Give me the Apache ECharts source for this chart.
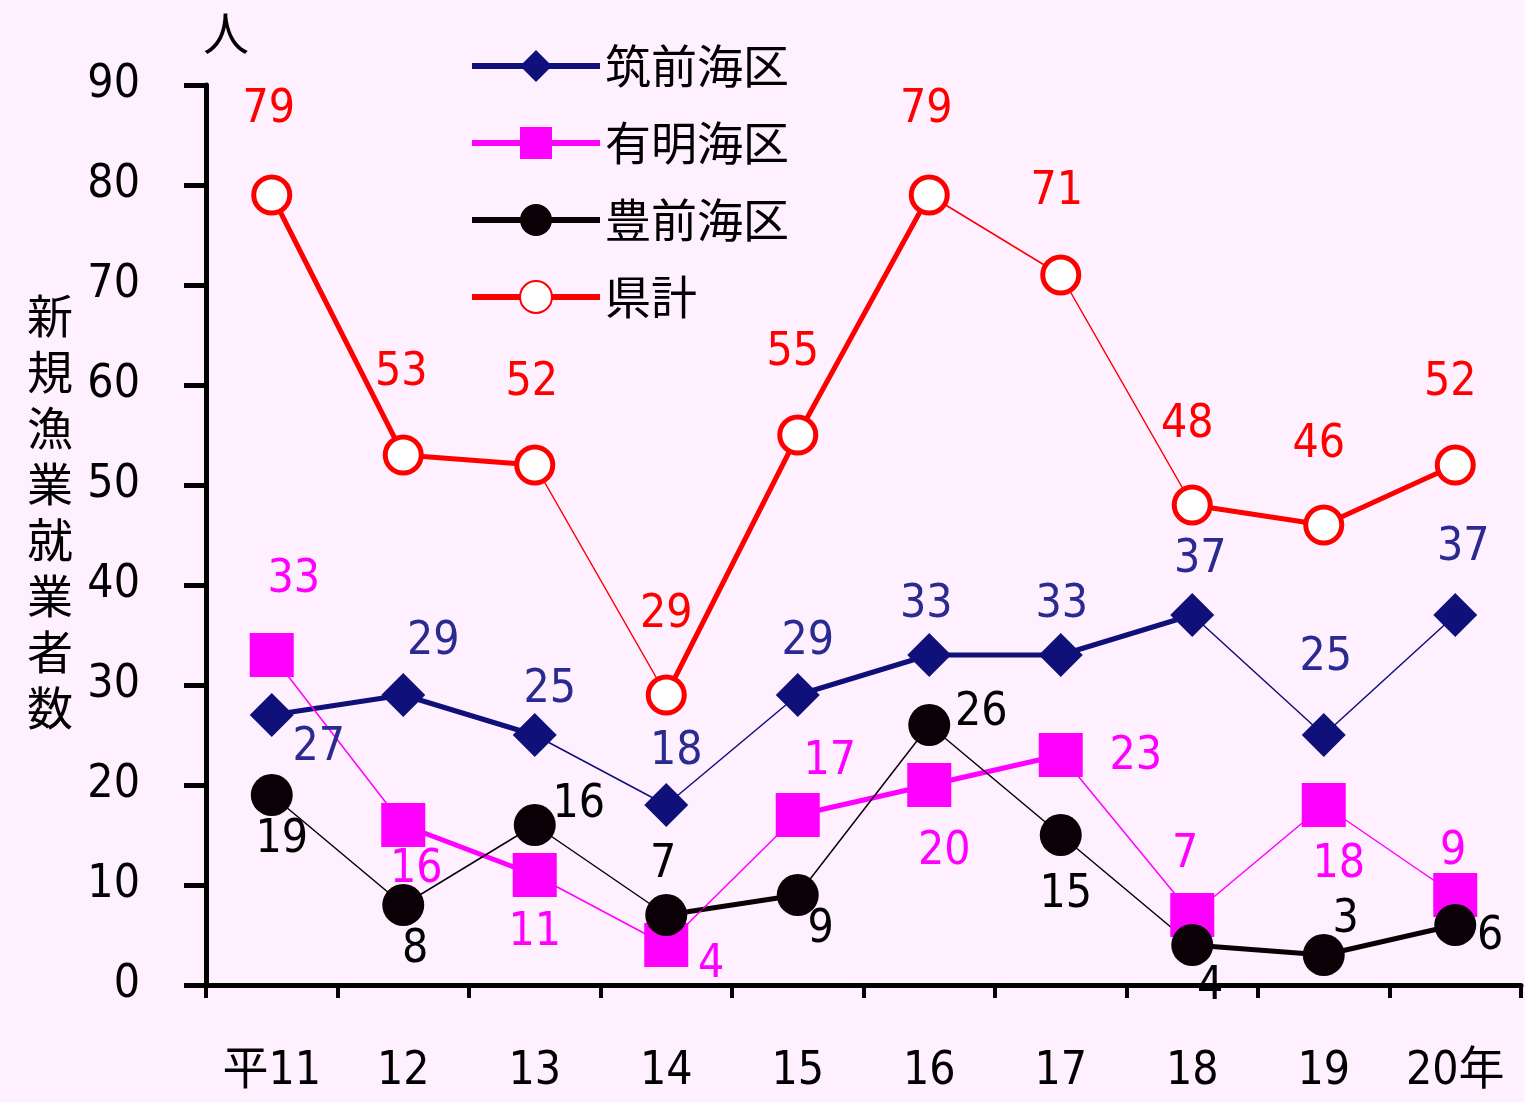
<!DOCTYPE html>
<html>
<head>
<meta charset="utf-8">
<script src="https://cdn.jsdelivr.net/npm/echarts@6/dist/echarts.min.js"></script>
<style>
html,body{margin:0;padding:0;background:#FFF0FF;}
#chart{width:1525px;height:1102px;}
</style>
</head>
<body>
<div id="chart"></div>
<script>
// ---- data ----
const categories = ['平11', '12', '13', '14', '15', '16', '17', '18', '19', '20年'];
const seriesNames = ['筑前海区', '有明海区', '豊前海区', '県計'];
const chikuzen = [27, 29, 25, 18, 29, 33, 33, 37, 25, 37];
const ariake   = [33, 16, 11, 4, 17, 20, 23, 7, 18, 9];
const buzen    = [19, 8, 16, 7, 9, 26, 15, 4, 3, 6];
const kenkei   = [79, 53, 52, 29, 55, 79, 71, 48, 46, 52];
const yTicks = [0, 10, 20, 30, 40, 50, 60, 70, 80, 90];

// ---- styling (segment weights and label offsets) ----
const thickChikuzen = [1, 1, 0, 0, 1, 1, 1, 0, 0];
const thickAriake   = [0, 1, 0, 0, 1, 1, 0, 0, 0];
const thickBuzen    = [0, 0, 0, 1, 0, 0, 0, 1, 1];
const thickKenkei   = [1, 1, 0, 1, 1, 0, 0, 1, 1];

const offChikuzen = [[47,33],[30,-53],[15,-45],[10,-53],[10,-53],[-3,-50],[1,-50],[8,-55],[2,-77],[8,-67]];
const offAriake   = [[22,-75],[13,45],[0,58],[45,20],[32,-53],[15,67],[75,2],[-7,-60],[15,60],[-2,-43]];
const offBuzen    = [[10,45],[12,45],[44,-20],[-3,-50],[23,35],[52,-12],[5,60],[18,42],[22,-35],[35,12]];
const offKenkei   = [[-3,-85],[-2,-82],[-3,-82],[0,-80],[-5,-82],[-3,-85],[-4,-83],[-5,-80],[-5,-80],[-5,-82]];

const NUM_FONT = '"Liberation Sans Narrow", "DejaVu Sans Condensed", "Liberation Sans", "Noto Sans CJK JP", sans-serif';
const CJK_FONT = '"Noto Sans CJK JP", "Liberation Sans", sans-serif';

function mainSeries(name, values, offsets, color, labelColor, symbol, size, itemStyle) {
  return {
    name: name,
    type: 'line',
    z: 3,
    data: values.map((v, i) => ({
      value: v,
      label: { offset: offsets[i] }
    })),
    symbol: symbol,
    symbolSize: size,
    showAllSymbol: true,
    lineStyle: { color: color, width: 1.5 },
    itemStyle: itemStyle,
    label: {
      show: true,
      position: 'inside',
      color: labelColor,
      fontSize: 46,
      fontFamily: NUM_FONT,
      align: 'center',
      verticalAlign: 'middle'
    },
    emphasis: { disabled: true },
    animation: false
  };
}

function thickSeries(name, values, thick, color) {
  const out = [];
  let run = null;
  for (let s = 0; s < thick.length; s++) {
    if (thick[s]) {
      if (!run) { run = values.map(() => null); run[s] = values[s]; }
      run[s + 1] = values[s + 1];
    } else if (run) { out.push(run); run = null; }
  }
  if (run) out.push(run);
  return out.map(d => ({
    name: name,
    type: 'line',
    z: 2,
    data: d,
    symbol: 'none',
    connectNulls: false,
    lineStyle: { color: color, width: 5 },
    label: { show: false },
    emphasis: { disabled: true },
    animation: false,
    silent: true
  }));
}

const NAVY = '#10107a', MAG = '#FF00FF', BLK = '#0a0005', RED = '#FF0000';

const series = [
  mainSeries(seriesNames[0], chikuzen, offChikuzen, NAVY, '#2a2a90', 'diamond', 44, { color: NAVY }),
  mainSeries(seriesNames[1], ariake, offAriake, MAG, MAG, 'rect', 44, { color: MAG }),
  mainSeries(seriesNames[2], buzen, offBuzen, BLK, '#000000', 'circle', 42, { color: BLK }),
  mainSeries(seriesNames[3], kenkei, offKenkei, RED, RED, 'circle', 36, { color: '#ffffff', borderColor: RED, borderWidth: 5 })
].concat(
  thickSeries(seriesNames[0], chikuzen, thickChikuzen, NAVY),
  thickSeries(seriesNames[1], ariake, thickAriake, MAG),
  thickSeries(seriesNames[2], buzen, thickBuzen, BLK),
  thickSeries(seriesNames[3], kenkei, thickKenkei, RED)
);

const chart = echarts.init(document.getElementById('chart'));
chart.setOption({
  backgroundColor: '#FFF0FF',
  animation: false,
  grid: { left: 206, right: 4, top: 85, bottom: 117, containLabel: false },
  legend: {
    data: seriesNames,
    orient: 'vertical',
    left: 464,
    top: 38,
    itemWidth: 128,
    itemHeight: 40,
    itemGap: 31,
    lineStyle: { width: 6 },
    textStyle: { fontSize: 46, fontFamily: CJK_FONT, color: '#000', padding: [0, 0, 0, 0] },
    selectedMode: false
  },
  xAxis: {
    type: 'category',
    data: categories,
    boundaryGap: true,
    axisLine: { lineStyle: { color: '#000', width: 5 } },
    axisTick: { show: true, length: 13, lineStyle: { color: '#000', width: 4 } },
    axisLabel: { fontSize: 46, fontFamily: NUM_FONT, color: '#000', margin: 64 },
    splitLine: { show: false }
  },
  yAxis: {
    type: 'value',
    min: yTicks[0],
    max: yTicks[yTicks.length - 1],
    interval: 10,
    axisLine: { show: true, lineStyle: { color: '#000', width: 5 } },
    axisTick: { show: true, length: 22, lineStyle: { color: '#000', width: 5 } },
    axisLabel: { fontSize: 46, fontFamily: NUM_FONT, color: '#000', margin: 66 },
    splitLine: { show: false }
  },
  graphic: [
    {
      type: 'text', left: 203, top: 10,
      style: { text: '人', fontSize: 46, fontFamily: CJK_FONT, fill: '#000' }
    },
    {
      type: 'text', left: 27, top: 288,
      style: {
        text: '新\n規\n漁\n業\n就\n業\n者\n数',
        fontSize: 46, lineHeight: 56, fontFamily: CJK_FONT, fill: '#000'
      }
    }
  ],
  series: series
});
</script>
</body>
</html>
